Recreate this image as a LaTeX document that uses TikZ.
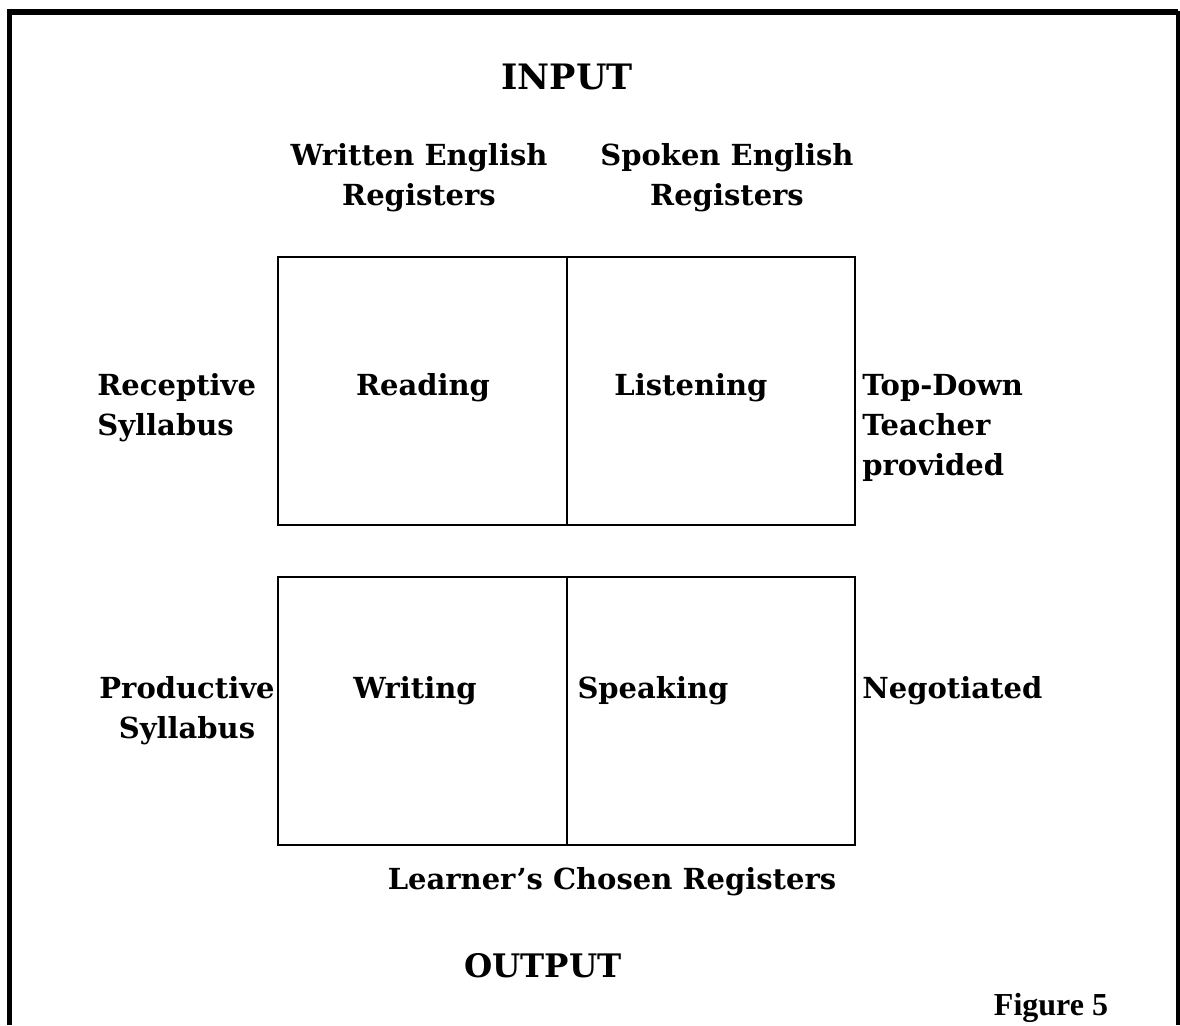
\documentclass[tikz,border=0pt]{standalone}
\usepackage{fontspec}
\setmainfont{DejaVu Serif}
\newfontfamily\capfont{Liberation Serif}
\usepackage{tikz}
\usetikzlibrary{positioning}

\tikzset{
  lbl/.style={font=\bfseries\fontsize{14.5}{20}\selectfont, inner sep=0pt},
  head/.style={font=\bfseries\fontsize{17.5}{21}\selectfont, inner sep=0pt},
  cell/.style={line width=1pt}
}

\begin{document}
\begin{tikzpicture}[x=0.5pt, y=-0.5pt]
  \useasboundingbox (0,0) rectangle (1180,1025);
  % outer frame, open at the bottom
  \draw[line width=2.8pt] (9.5,1025) -- (9.5,12) -- (1178,12);
  \draw[line width=1.6pt] (1178,10.6) -- (1178,1025);

  % the two grids
  \draw[cell] (278,257) rectangle (855,525);
  \draw[cell] (567,257) -- (567,525);
  \draw[cell] (278,577) rectangle (855,845);
  \draw[cell] (567,577) -- (567,845);

  \node[head] (input) at (567,77) {INPUT};
  \node[lbl, align=center] (written) at (419,178) {Written English\\Registers};
  \node[lbl, align=center] (spoken) at (727,178) {Spoken English\\Registers};

  \node[lbl] (reading) at (423,388) {Reading};
  \node[lbl] (listening) at (691,388) {Listening};
  \node[lbl, align=left, anchor=west] (receptive) at (97,408) {Receptive\\Syllabus};
  \node[lbl, align=left, anchor=west] (topdown) at (862,428) {Top-Down\\Teacher\\provided};

  \node[lbl] (writing) at (415,691) {Writing};
  \node[lbl] (speaking) at (653,691) {Speaking};
  \node[lbl, align=center] (productive) at (187,711) {Productive\\Syllabus};
  \node[lbl, anchor=west] (negotiated) at (862,691) {Negotiated};

  \node[lbl] (chosen) at (612,882) {Learner’s Chosen Registers};
  \node[head, font=\bfseries\fontsize{16.2}{20}\selectfont] (output) at (543,966) {OUTPUT};
  \node[font=\capfont\bfseries\fontsize{16}{18}\selectfont, inner sep=0pt] (figno) at (1051,1008) {Figure 5};
\end{tikzpicture}
\end{document}
